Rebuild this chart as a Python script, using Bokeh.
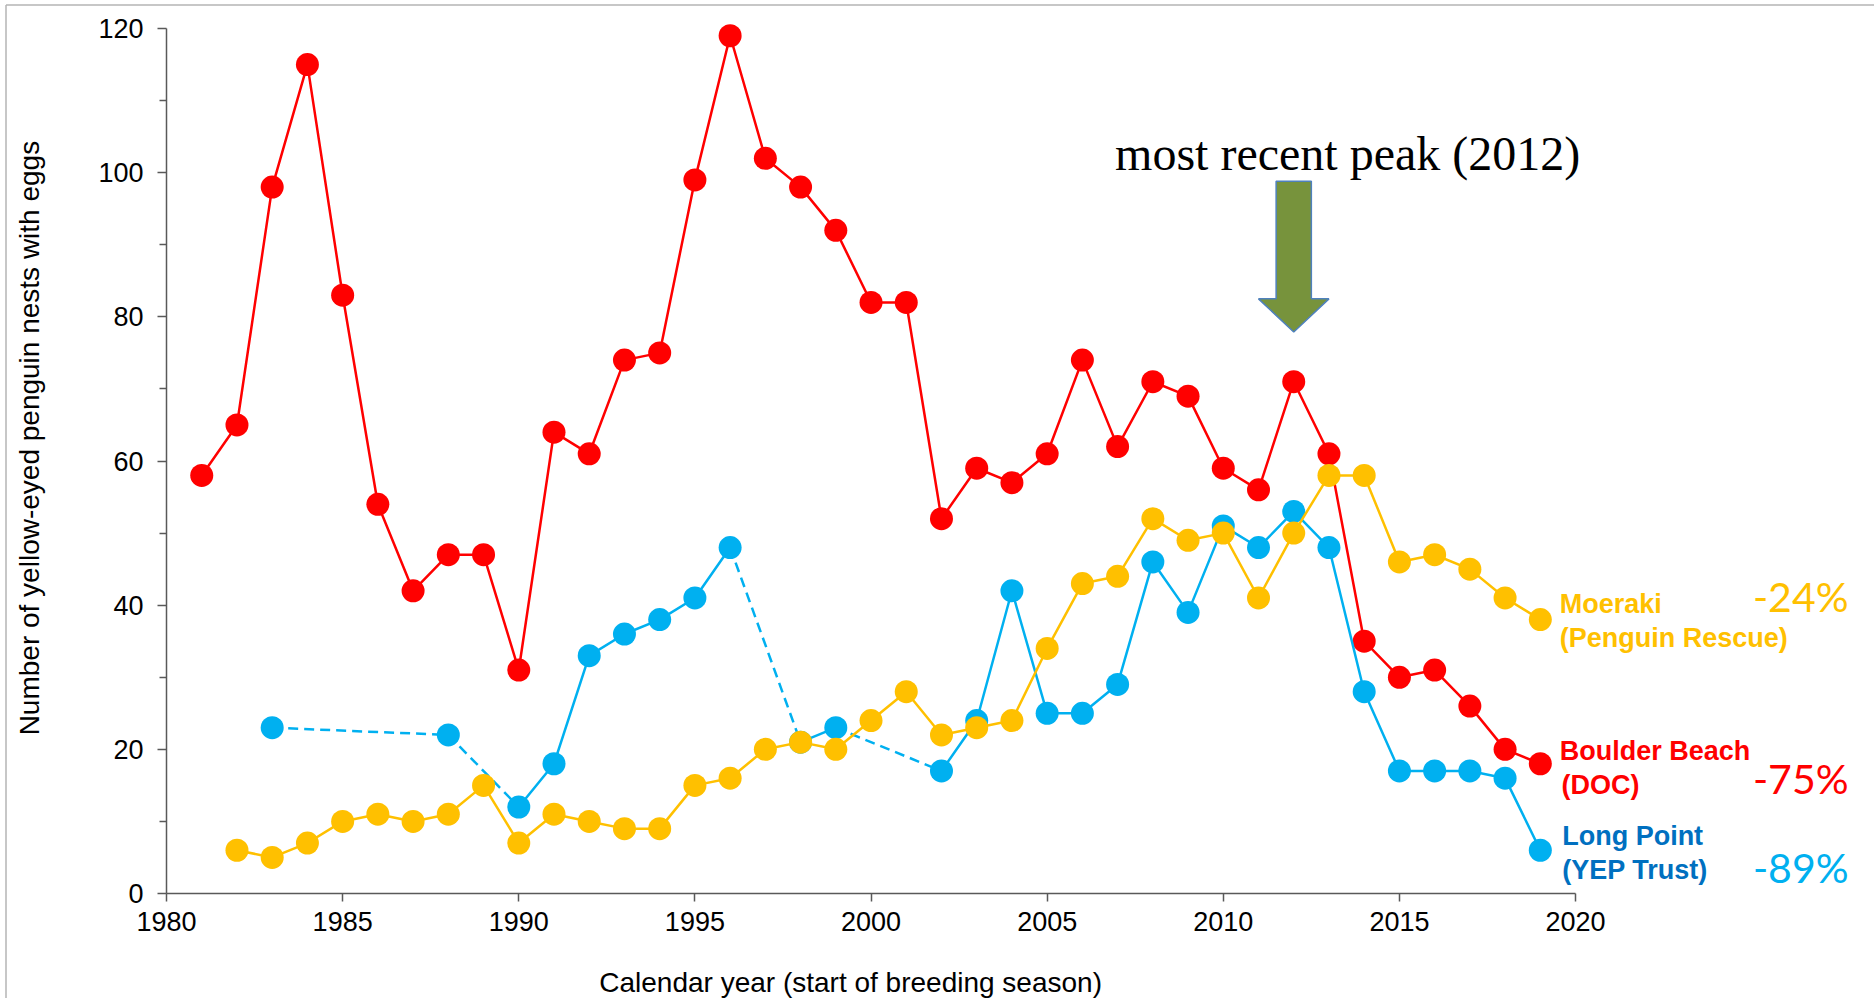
import math
from bokeh.plotting import figure
from bokeh.models import Range1d, FixedTicker, ColumnDataSource
from bokeh.core.properties import value
from bokeh.embed import file_html
from bokeh.resources import INLINE

# ---------------- data ----------------
boulder_years = list(range(1981, 2020))
boulder_nests = [58, 65, 98, 115, 83, 54, 42, 47, 47, 31,
                 64, 61, 74, 75, 99, 119, 102, 98, 92, 82,
                 82, 52, 59, 57, 61, 74, 62, 71, 69, 59,
                 56, 71, 61, 35, 30, 31, 26, 20, 18]

moeraki_years = list(range(1982, 2020))
moeraki_nests = [6, 5, 7, 10, 11, 10, 11, 15, 7, 11,
                 10, 9, 9, 15, 16, 20, 21, 20, 24, 28,
                 22, 23, 24, 34, 43, 44, 52, 49, 50, 41,
                 50, 58, 58, 46, 47, 45, 41, 38]

longpoint_years = [1983, 1988, 1990, 1991, 1992, 1993, 1994, 1995, 1996, 1998,
                   1999, 2002, 2003, 2004, 2005, 2006, 2007, 2008, 2009, 2010,
                   2011, 2012, 2013, 2014, 2015, 2016, 2017, 2018, 2019]
longpoint_nests = [23, 22, 12, 18, 33, 36, 38, 41, 48, 21,
                   23, 17, 24, 42, 25, 25, 29, 46, 39, 51,
                   48, 53, 48, 28, 17, 17, 17, 16, 6]

site_names = ["Moeraki", "Boulder Beach", "Long Point"]
site_owners = ["(Penguin Rescue)", "(DOC)", "(YEP Trust)"]
site_changes = ["-24%", "-75%", "-89%"]

x_ticks = [1980, 1985, 1990, 1995, 2000, 2005, 2010, 2015, 2020]
y_ticks = [0, 20, 40, 60, 80, 100, 120]
y_minor = [10, 30, 50, 70, 90, 110]

x_title = "Calendar year (start of breeding season)"
y_title = "Number of yellow-eyed penguin nests with eggs"
peak_text = "most recent peak (2012)"
peak_year = 2012

# ---------------- styles ----------------
RED = "#FF0000"
BLUE = "#00B0F0"
GOLD = "#FFC000"
DARKBLUE = "#0070C0"
AXIS = "#595959"
FONT = "Liberation Sans"

X0, X1 = 1975.287, 2028.487
Y0, Y1 = -14.567, 123.89
W, H = 1874, 998

# the frame covers the whole canvas; axes are pinned at x=1980 / y=0
p = figure(width=W, height=H, output_backend="svg", toolbar_location=None,
           x_range=Range1d(X0, X1), y_range=Range1d(Y0, Y1),
           min_border_left=0, min_border_right=0, min_border_top=0,
           min_border_bottom=0)
p.outline_line_color = None
p.grid.visible = False
p.background_fill_color = "white"
p.border_fill_color = "white"

for ax in (p.xaxis[0], p.yaxis[0]):
    ax.axis_line_color = AXIS
    ax.axis_line_width = 1.5
    ax.major_tick_line_color = AXIS
    ax.major_tick_line_width = 1.5
    ax.minor_tick_line_color = AXIS
    ax.minor_tick_line_width = 1.5
    ax.major_tick_in = 0
    ax.minor_tick_in = 0
    ax.major_label_text_font = FONT
    ax.major_label_text_font_size = "27px"
    ax.major_label_text_color = "black"

p.xaxis.fixed_location = 0
p.xaxis.ticker = FixedTicker(ticks=x_ticks)
p.xaxis.major_tick_out = 8
p.xaxis.minor_tick_out = 0
p.xaxis.major_label_standoff = 10
p.xaxis.bounds = (1980, 2020)

p.yaxis.fixed_location = 1980
p.yaxis.ticker = FixedTicker(ticks=y_ticks, minor_ticks=y_minor)
p.yaxis.major_tick_out = 9
p.yaxis.minor_tick_out = 7
p.yaxis.major_label_standoff = 14
p.yaxis.bounds = (0, 120)

# thin grey picture border (top and left edges)
bx = X0 + 5.5 * (X1 - X0) / W
by = Y1 - 4.5 * (Y1 - Y0) / H
p.segment([bx, bx], [by, by], [X1, bx], [by, Y0], line_color="#B4B4B4", line_width=1.5)

# axis titles
p.text(x=[1999.42], y=[-12.35], text=[x_title], text_font=value(FONT),
       text_font_size="28px", text_color="black", text_align="center",
       text_baseline="middle")
p.text(x=[1976.11], y=[63.18], text=[y_title], text_font=value(FONT),
       text_font_size="28px", text_color="black", text_align="center",
       text_baseline="middle", angle=math.pi / 2)

# ---------------- series ----------------
LW = 2.5
MS = 23

# Boulder Beach
p.line(boulder_years, boulder_nests, line_color=RED, line_width=LW)
p.scatter(boulder_years, boulder_nests, size=MS, fill_color=RED, line_color=None)

# Long Point: solid where consecutive years, dashed across gaps
runs = [[0]]
dash_x0, dash_y0, dash_x1, dash_y1 = [], [], [], []
for i in range(1, len(longpoint_years)):
    if longpoint_years[i] - longpoint_years[i - 1] == 1:
        runs[-1].append(i)
    else:
        dash_x0.append(longpoint_years[i - 1]); dash_y0.append(longpoint_nests[i - 1])
        dash_x1.append(longpoint_years[i]); dash_y1.append(longpoint_nests[i])
        runs.append([i])
for r in runs:
    if len(r) > 1:
        p.line([longpoint_years[i] for i in r], [longpoint_nests[i] for i in r],
               line_color=BLUE, line_width=LW)
p.segment(dash_x0, dash_y0, dash_x1, dash_y1, line_color=BLUE, line_width=LW,
          line_dash="10 6")
p.scatter(longpoint_years, longpoint_nests, size=MS, fill_color=BLUE, line_color=None)

# Moeraki
p.line(moeraki_years, moeraki_nests, line_color=GOLD, line_width=LW)
p.scatter(moeraki_years, moeraki_nests, size=MS, fill_color=GOLD, line_color=None)

# ---------------- right-hand labels ----------------
name_src = ColumnDataSource(dict(
    x=[2019.55, 2019.55, 2019.55, 2019.6, 2019.62, 2019.62],
    y=[40.1, 35.5, 19.8, 15.1, 8.0, 3.3],
    t=[site_names[0], site_owners[0], site_names[1], site_owners[1], site_names[2], site_owners[2]],
    c=[GOLD, GOLD, RED, RED, DARKBLUE, DARKBLUE]))
p.text(x="x", y="y", text="t", text_color="c", source=name_src,
       text_font=value(FONT), text_font_style="bold", text_font_size="27px",
       text_align="left", text_baseline="middle")

pct_src = ColumnDataSource(dict(
    x=[2027.75, 2027.75, 2027.75],
    y=[41.2, 16.0, 3.6],
    t=site_changes,
    c=[GOLD, RED, BLUE]))
p.text(x="x", y="y", text="t", text_color="c", source=pct_src,
       text_font=value("Lato"), text_font_size="41px",
       text_align="right", text_baseline="middle")

# ---------------- annotation ----------------
p.text(x=[2013.53], y=[102.66], text=[peak_text],
       text_font=value("Liberation Serif"), text_font_size="48px",
       text_color="black", text_align="center", text_baseline="alphabetic")

shaft = 0.5
head = 1.0
top_y, base_y, tip_y = 98.8, 82.5, 77.9
arrow_x = [peak_year - shaft, peak_year + shaft, peak_year + shaft, peak_year + head,
           peak_year, peak_year - head, peak_year - shaft]
arrow_y = [top_y, top_y, base_y, base_y, tip_y, base_y, base_y]
p.patch(arrow_x, arrow_y, fill_color="#77933C", line_color="#4F81BD", line_width=1.5)

open("out.html", "w").write(file_html(p, INLINE))
